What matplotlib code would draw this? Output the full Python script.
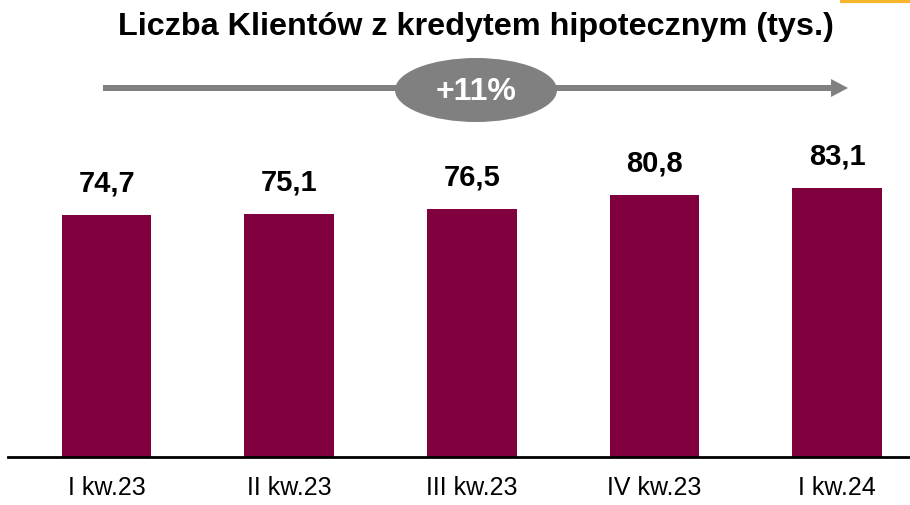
import matplotlib
matplotlib.use('Agg')
import matplotlib.pyplot as plt
from matplotlib.patches import Ellipse, FancyArrow

plt.rcParams['font.family'] = ['Liberation Sans', 'DejaVu Sans']

# data
quarters = ['I kw.23', 'II kw.23', 'III kw.23', 'IV kw.23', 'I kw.24']
clients = [74.7, 75.1, 76.5, 80.8, 83.1]
growth_label = '+11%'
title = 'Liczba Klientów z kredytem hipotecznym (tys.)'

W, H = 910, 505
fig = plt.figure(figsize=(W / 100, H / 100), dpi=100)

# main bar axes (pixel layout: left 8, right 910, baseline 457, top 100)
ax = fig.add_axes([8 / W, 48 / H, 902 / W, 357 / H])
x = range(len(quarters))
ax.bar(x, clients, width=0.49, color='#7F003C')
ax.set_xlim(-0.54, 4.4)
ax.set_ylim(0, 110.2)
ax.set_xticks(list(x))
ax.set_xticklabels(quarters, fontsize=18)
ax.tick_params(axis='x', length=0, pad=14)
ax.set_yticks([])
for side in ['left', 'right', 'top']:
    ax.spines[side].set_visible(False)
ax.spines['bottom'].set_linewidth(2)
ax.spines['bottom'].set_color('black')

for xi, v in zip(x, clients):
    ax.annotate(f'{v:.1f}'.replace('.', ','), (xi, v), xytext=(0, 17),
                textcoords='offset points', ha='center', va='baseline',
                fontsize=21, fontweight='bold')

# overlay in pixel coordinates for title, arrow and badge
ov = fig.add_axes([0, 0, 1, 1])
ov.set_xlim(0, W)
ov.set_ylim(H, 0)
ov.axis('off')

ov.plot([840, 910], [1, 1], color='#F7B52C', lw=3, solid_capstyle='butt')

ov.text(476, 35, title, ha='center', va='baseline', fontsize=23.3,
        fontweight='bold')

ov.add_patch(FancyArrow(103, 88, 728, 0, width=6, head_width=18,
                        head_length=17, length_includes_head=False,
                        color='#808080', lw=0))
ov.add_patch(Ellipse((476, 90), 162, 64, color='#808080', lw=0))
ov.text(476, 100, growth_label, ha='center', va='baseline', fontsize=23,
        fontweight='bold', color='white')

fig.savefig('out.png', dpi=100)
